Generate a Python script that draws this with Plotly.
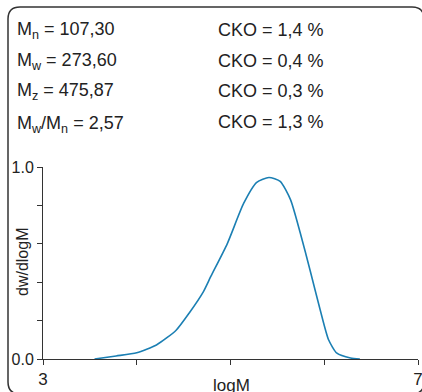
import plotly.graph_objects as go

W, H = 422, 392

# data
logM = [3.55, 3.78, 4.0, 4.21, 4.42, 4.56, 4.71, 4.79, 4.965, 5.14, 5.28, 5.41, 5.53, 5.64, 5.745, 5.85, 5.957, 6.046, 6.135, 6.28, 6.38]
dw = [0.0, 0.016, 0.033, 0.073, 0.15, 0.24, 0.35, 0.43, 0.60, 0.81, 0.92, 0.945, 0.925, 0.83, 0.655, 0.46, 0.255, 0.10, 0.03, 0.005, 0.0]

stats_left = ["M<sub>n</sub> = 107,30", "M<sub>w</sub> = 273,60", "M<sub>z</sub> = 475,87", "M<sub>w</sub>/M<sub>n</sub> = 2,57"]
stats_right = ["CKO = 1,4 %", "CKO = 0,4 %", "CKO = 0,3 %", "CKO = 1,3 %"]

xtick_vals = [3, 4, 5, 6, 7]
xtick_text = ["3", "", "", "", "7"]
ytick_vals = [0, 0.2, 0.4, 0.6, 0.8, 1.0]
ytick_text = ["0.0", "", "", "", "", "1.0"]

FONT = "Liberation Sans, Arial, sans-serif"
TXT = "#222222"
AX = "#333333"

def px(x):
    return x / W

def py(y):
    return 1 - y / H

fig = go.Figure()
fig.add_trace(go.Scatter(x=logM, y=dw, mode="lines", line=dict(color="#1b7fb3", width=1.6, shape="spline", smoothing=0.6)))

annotations = []
left_y = [30, 61, 91, 124]
right_y = [30, 61, 91, 122]
for t, yy in zip(stats_left, left_y):
    annotations.append(dict(x=px(15), y=py(yy), xref="paper", yref="paper", text=t, showarrow=False,
                            xanchor="left", yanchor="middle", font=dict(family=FONT, size=18, color=TXT)))
for t, yy in zip(stats_right, right_y):
    annotations.append(dict(x=px(216), y=py(yy), xref="paper", yref="paper", text=t, showarrow=False,
                            xanchor="left", yanchor="middle", font=dict(family=FONT, size=18, color=TXT)))
annotations.append(dict(x=px(22), y=py(262), xref="paper", yref="paper", text="dw/dlogM", showarrow=False,
                        textangle=-90, xanchor="center", yanchor="middle", font=dict(family=FONT, size=16, color=TXT)))
annotations.append(dict(x=px(231), y=py(385), xref="paper", yref="paper", text="logM", showarrow=False,
                        xanchor="center", yanchor="middle", font=dict(family=FONT, size=17, color=TXT)))

# rounded border
x0, y0, x1, y1, r = 8, 7, 424, 394, 12
def P(x, y):
    return f"{px(x)},{py(y)}"
path = (f"M {P(x0, y0 + r)} Q {P(x0, y0)} {P(x0 + r, y0)} L {P(x1 - r, y0)} Q {P(x1, y0)} {P(x1, y0 + r)} "
        f"L {P(x1, y1 - r)} Q {P(x1, y1)} {P(x1 - r, y1)} L {P(x0 + r, y1)} Q {P(x0, y1)} {P(x0, y1 - r)} Z")

fig.update_layout(
    width=W, height=H, margin=dict(l=0, r=0, t=0, b=0, autoexpand=False),
    paper_bgcolor="white", plot_bgcolor="white", showlegend=False,
    font=dict(family=FONT, color=TXT),
    annotations=annotations,
    shapes=[dict(type="path", path=path, xref="paper", yref="paper", line=dict(color=AX, width=1.5))],
    xaxis=dict(domain=[px(43), px(418)], range=[3, 7], tickmode="array", tickvals=xtick_vals, ticktext=xtick_text,
               ticks="outside", ticklen=5, tickcolor=AX, showline=True, linecolor=AX, linewidth=1, automargin=False,
               ticklabeloverflow="allow",
               showgrid=False, zeroline=False, tickfont=dict(family=FONT, size=17, color=TXT)),
    yaxis=dict(domain=[py(359), py(167)], range=[0, 1], tickmode="array", tickvals=ytick_vals, ticktext=ytick_text,
               ticks="outside", ticklen=5, tickcolor=AX, showline=True, linecolor=AX, linewidth=1, automargin=False,
               ticklabeloverflow="allow",
               showgrid=False, zeroline=False, tickfont=dict(family=FONT, size=16, color=TXT)),
)

fig.write_html("out.html", config={"displayModeBar": False},
               post_script="document.body.style.margin='0';document.body.style.overflow='hidden';")
